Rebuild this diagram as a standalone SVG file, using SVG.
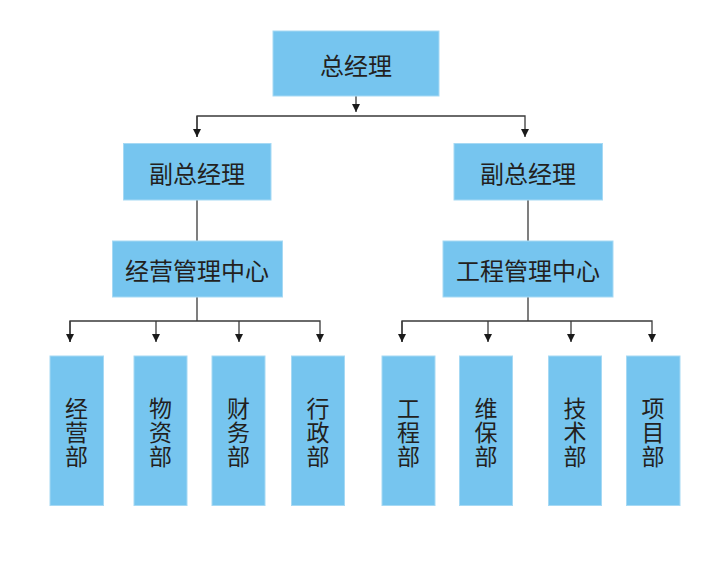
<svg xmlns="http://www.w3.org/2000/svg" width="709" height="565" viewBox="0 0 709 565">
<style>
.box{fill:#76C5EF;stroke:#A6D9F4;stroke-width:1}
.t{font-family:"Noto Sans CJK SC","Noto Sans",sans-serif;font-size:24px;fill:#231F20;text-anchor:middle;dominant-baseline:central}
.v{font-size:23px}
.ln{fill:none;stroke:#3a3a3a;stroke-width:1.3}
</style>
<defs>
<marker id="ah" viewBox="0 0 10 10" refX="10" refY="5" markerWidth="8" markerHeight="9" markerUnits="userSpaceOnUse" orient="auto">
<path d="M0,0 L10,5 L0,10 Z" fill="#1a1a1a"/>
</marker>
</defs>
<rect width="709" height="565" fill="#fff"/>
<g id="connectors">
<path class="ln" d="M356,96 V112" marker-end="url(#ah)"/>
<path class="ln" d="M197,137 V116 H525 V137" marker-end="url(#ah)"/>
<path class="ln" d="M197,116 V137" marker-end="url(#ah)"/>
<path class="ln" d="M197,200 V241"/>
<path class="ln" d="M528,200 V241"/>
<path class="ln" d="M197,297 V321"/>
<path class="ln" d="M70,342 V321 H320 V342" marker-end="url(#ah)"/>
<path class="ln" d="M70,321 V342" marker-end="url(#ah)"/>
<path class="ln" d="M156,321 V342" marker-end="url(#ah)"/>
<path class="ln" d="M239,321 V342" marker-end="url(#ah)"/>
<path class="ln" d="M528,297 V321"/>
<path class="ln" d="M402,342 V321 H652 V342" marker-end="url(#ah)"/>
<path class="ln" d="M402,321 V342" marker-end="url(#ah)"/>
<path class="ln" d="M488,321 V342" marker-end="url(#ah)"/>
<path class="ln" d="M571,321 V342" marker-end="url(#ah)"/>
</g>
<g id="gm"><rect class="box" x="273" y="31" width="166" height="65"/><text class="t" x="356" y="64">总经理</text></g>
<g id="vp1"><rect class="box" x="123.5" y="143.5" width="147.5" height="56.5"/><text class="t" x="197" y="172">副总经理</text></g>
<g id="vp2"><rect class="box" x="454" y="143.5" width="148.5" height="56.5"/><text class="t" x="528" y="172">副总经理</text></g>
<g id="c1"><rect class="box" x="112.5" y="241" width="170" height="56"/><text class="t" x="197" y="269">经营管理中心</text></g>
<g id="c2"><rect class="box" x="443" y="241" width="170" height="56"/><text class="t" x="528" y="269">工程管理中心</text></g>
<g id="d1"><rect class="box" x="50" y="356" width="53.5" height="149.5"/><text class="t v" x="76.5"><tspan x="76.5" y="407">经</tspan><tspan x="76.5" y="431">营</tspan><tspan x="76.5" y="455">部</tspan></text></g>
<g id="d2"><rect class="box" x="134" y="356" width="53" height="149.5"/><text class="t v" x="160.5"><tspan x="160.5" y="407">物</tspan><tspan x="160.5" y="431">资</tspan><tspan x="160.5" y="455">部</tspan></text></g>
<g id="d3"><rect class="box" x="212" y="356" width="53" height="149.5"/><text class="t v" x="238.5"><tspan x="238.5" y="407">财</tspan><tspan x="238.5" y="431">务</tspan><tspan x="238.5" y="455">部</tspan></text></g>
<g id="d4"><rect class="box" x="291.5" y="356" width="53" height="149.5"/><text class="t v" x="318"><tspan x="318" y="407">行</tspan><tspan x="318" y="431">政</tspan><tspan x="318" y="455">部</tspan></text></g>
<g id="d5"><rect class="box" x="382" y="356" width="53" height="149.5"/><text class="t v" x="408.5"><tspan x="408.5" y="407">工</tspan><tspan x="408.5" y="431">程</tspan><tspan x="408.5" y="455">部</tspan></text></g>
<g id="d6"><rect class="box" x="459.5" y="356" width="53" height="149.5"/><text class="t v" x="486"><tspan x="486" y="407">维</tspan><tspan x="486" y="431">保</tspan><tspan x="486" y="455">部</tspan></text></g>
<g id="d7"><rect class="box" x="548.5" y="356" width="53" height="149.5"/><text class="t v" x="575"><tspan x="575" y="407">技</tspan><tspan x="575" y="431">术</tspan><tspan x="575" y="455">部</tspan></text></g>
<g id="d8"><rect class="box" x="626.5" y="356" width="53.5" height="149.5"/><text class="t v" x="653"><tspan x="653" y="407">项</tspan><tspan x="653" y="431">目</tspan><tspan x="653" y="455">部</tspan></text></g>
</svg>
